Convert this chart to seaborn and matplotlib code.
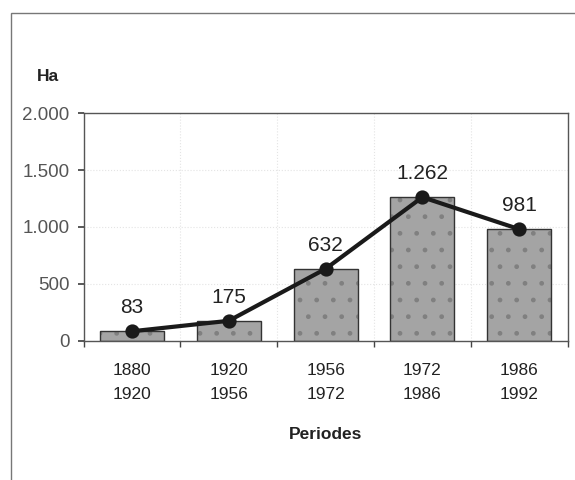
import numpy as np
import pandas as pd
import matplotlib
matplotlib.use('Agg')
import matplotlib.pyplot as plt
import seaborn as sns
from matplotlib.ticker import FuncFormatter, FixedLocator
from matplotlib.patches import Rectangle

sns.set_theme(style='white')
plt.rcParams['font.family'] = ['Liberation Sans', 'DejaVu Sans']
plt.rcParams['hatch.linewidth'] = 1.0

start_years = ['1880', '1920', '1956', '1972', '1986']
end_years = ['1920', '1956', '1972', '1986', '1992']
hectares = [83, 175, 632, 1262, 981]
value_labels = ['83', '175', '632', '1.262', '981']

periods = [f'{a}\n{b}' for a, b in zip(start_years, end_years)]
df = pd.DataFrame({'periode': periods, 'ha': hectares})

fig = plt.figure(figsize=(5.75, 4.8), dpi=100)
ax = fig.add_axes([0.1454, 0.2902, 0.8416, 0.4738])

# filled bars with a faint dotted texture
sns.barplot(data=df, x='periode', y='ha', ax=ax, color='#a4a4a4',
            edgecolor='#808080', linewidth=0, width=0.66, saturation=1)
for p in ax.patches:
    p.set_hatch('.')
# dark outlines on top
sns.barplot(data=df, x='periode', y='ha', ax=ax, fill=False,
            edgecolor='#333333', linewidth=1.0, width=0.66)

sns.pointplot(data=df, x='periode', y='ha', ax=ax, color='#1a1a1a',
              markers='o', markersize=8, linewidth=3)

for i, (v, lab) in enumerate(zip(hectares, value_labels)):
    ax.annotate(lab, (i, v), xytext=(0, 10), textcoords='offset points',
                ha='center', va='bottom', fontsize=15, color='#222222')

ax.set_xlim(-0.5, 4.5)
ax.set_ylim(0, 2000)
ax.yaxis.set_major_locator(FixedLocator([0, 500, 1000, 1500, 2000]))
ax.yaxis.set_major_formatter(FuncFormatter(lambda v, _: f'{int(v):,}'.replace(',', '.')))

ax.xaxis.set_minor_locator(FixedLocator([-0.5, 0.5, 1.5, 2.5, 3.5, 4.5]))
ax.grid(True, axis='y', which='major', color='#e4e4e4', linewidth=0.8, linestyle=':')
ax.grid(True, axis='x', which='minor', color='#e4e4e4', linewidth=0.8, linestyle=':')
ax.set_axisbelow(True)

ax.tick_params(axis='x', which='major', length=0, pad=16, labelsize=12.5, colors='#222222')
ax.tick_params(axis='x', which='minor', length=4, direction='out', color='#444444', bottom=True)
ax.tick_params(axis='y', which='major', length=4, direction='out', color='#444444',
               left=True, labelsize=13.5, labelcolor='#555555', pad=6)
for lab in ax.get_xticklabels():
    lab.set_linespacing(1.75)

for s in ax.spines.values():
    s.set_visible(True)
    s.set_color('#555555')
    s.set_linewidth(1.0)

ax.set_xlabel('Periodes', fontsize=12.5, fontweight='bold', color='#222222', labelpad=18)
ax.set_ylabel('')
fig.text(0.064, 0.84, 'Ha', fontsize=12.5, fontweight='bold', color='#222222',
         ha='left', va='center')

fig.patches.append(Rectangle((0.019, -0.05), 1.1, 1.022, transform=fig.transFigure,
                             fill=False, edgecolor='#777777', linewidth=1.0))

fig.savefig('out.png', dpi=100)
